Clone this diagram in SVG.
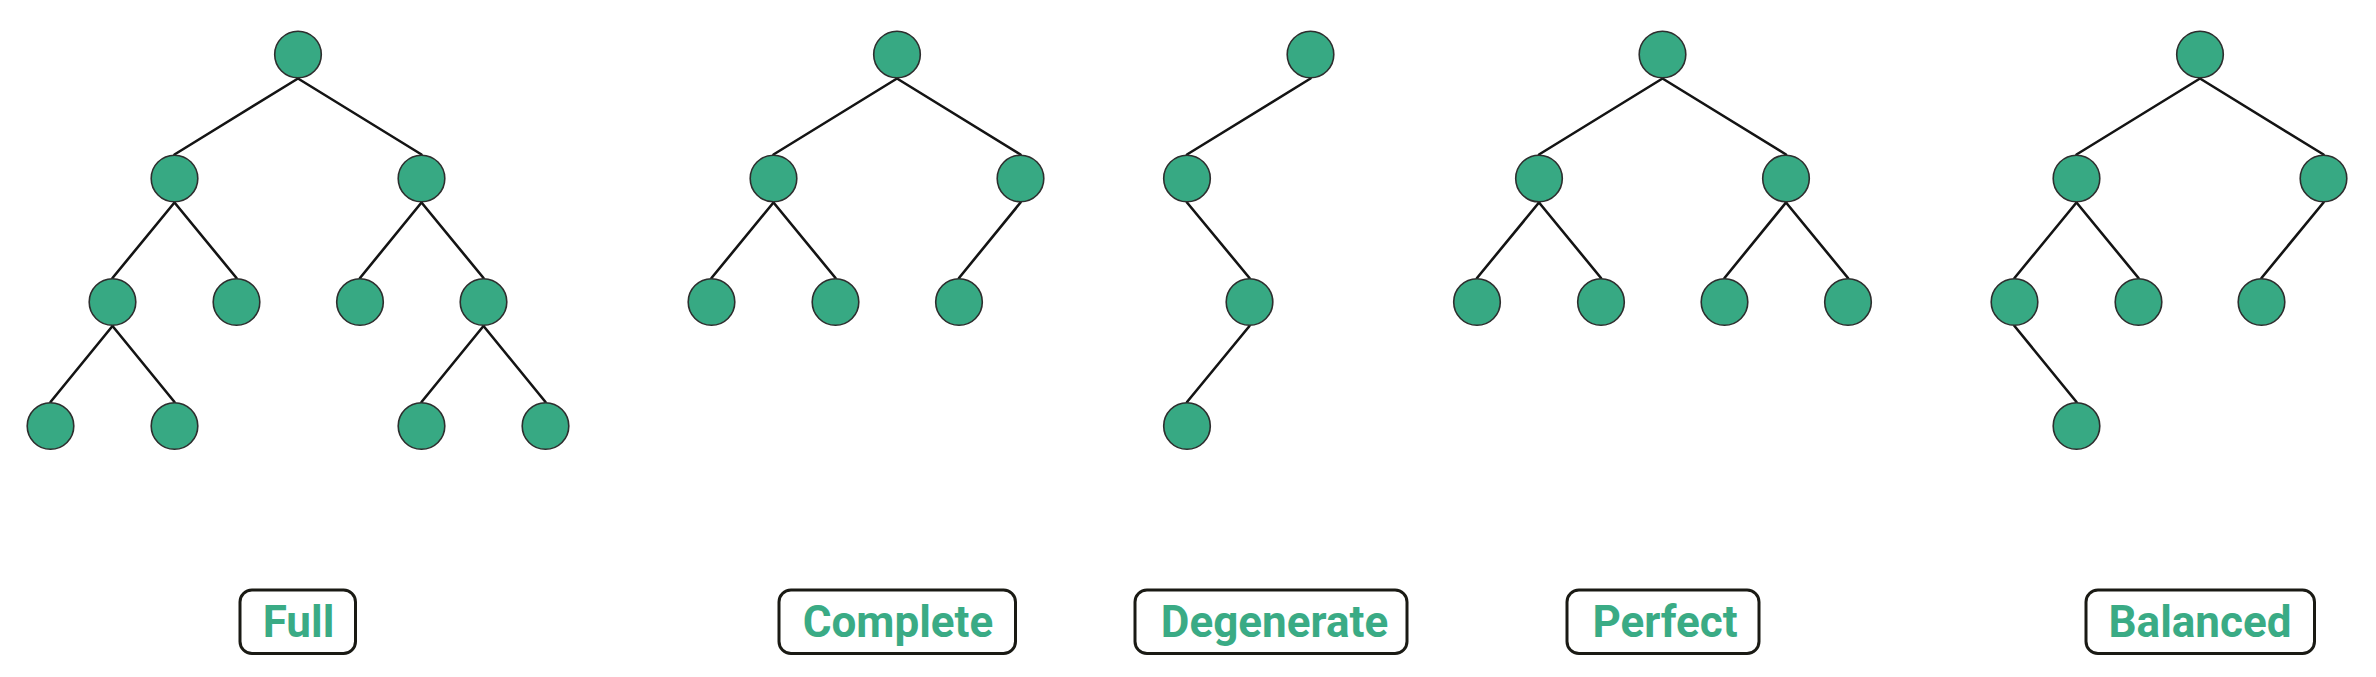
<svg xmlns="http://www.w3.org/2000/svg" width="2376" height="677" viewBox="0 0 2376 677">
<style>
.n{fill:#37a983;stroke:#2e2e2e;stroke-width:1.6}
.e{stroke:#141414;stroke-width:2.6;fill:none;stroke-linecap:round}
.b{fill:#fff;stroke:#1a1a14;stroke-width:3}
.t{fill:#3aab85;font-family:Roboto,"Liberation Sans",sans-serif;font-weight:bold;font-size:44px;text-anchor:middle}
</style>
<rect width="2376" height="677" fill="#fff"/>
<g id="connectors">
<!-- Full -->
<line class="e" x1="298" y1="78.5" x2="174.5" y2="154.5"/>
<line class="e" x1="298" y1="78.5" x2="421.5" y2="154.5"/>
<line class="e" x1="174.5" y1="202.5" x2="112.5" y2="278"/>
<line class="e" x1="174.5" y1="202.5" x2="236.5" y2="278"/>
<line class="e" x1="421.5" y1="202.5" x2="360" y2="278"/>
<line class="e" x1="421.5" y1="202.5" x2="483.5" y2="278"/>
<line class="e" x1="112.5" y1="326" x2="50.5" y2="402"/>
<line class="e" x1="112.5" y1="326" x2="174.5" y2="402"/>
<line class="e" x1="483.5" y1="326" x2="421.5" y2="402"/>
<line class="e" x1="483.5" y1="326" x2="545.5" y2="402"/>
<!-- Complete -->
<line class="e" x1="897" y1="78.5" x2="773.5" y2="154.5"/>
<line class="e" x1="897" y1="78.5" x2="1020.5" y2="154.5"/>
<line class="e" x1="773.5" y1="202.5" x2="711.5" y2="278"/>
<line class="e" x1="773.5" y1="202.5" x2="835.5" y2="278"/>
<line class="e" x1="1020.5" y1="202.5" x2="959" y2="278"/>
<!-- Degenerate -->
<line class="e" x1="1310.5" y1="78.5" x2="1187" y2="154.5"/>
<line class="e" x1="1187" y1="202.5" x2="1249.5" y2="278"/>
<line class="e" x1="1249.5" y1="326" x2="1187" y2="402"/>
<!-- Perfect -->
<line class="e" x1="1662.5" y1="78.5" x2="1539" y2="154.5"/>
<line class="e" x1="1662.5" y1="78.5" x2="1786" y2="154.5"/>
<line class="e" x1="1539" y1="202.5" x2="1477" y2="278"/>
<line class="e" x1="1539" y1="202.5" x2="1601" y2="278"/>
<line class="e" x1="1786" y1="202.5" x2="1724.5" y2="278"/>
<line class="e" x1="1786" y1="202.5" x2="1848" y2="278"/>
<!-- Balanced -->
<line class="e" x1="2200" y1="78.5" x2="2076.5" y2="154.5"/>
<line class="e" x1="2200" y1="78.5" x2="2323.5" y2="154.5"/>
<line class="e" x1="2076.5" y1="202.5" x2="2014.5" y2="278"/>
<line class="e" x1="2076.5" y1="202.5" x2="2138.5" y2="278"/>
<line class="e" x1="2323.5" y1="202.5" x2="2261.5" y2="278"/>
<line class="e" x1="2014.5" y1="326" x2="2076.5" y2="402"/>
</g>
<g id="full-tree">
<circle id="f1" class="n" cx="298" cy="54.5" r="23.3"/>
<circle id="f2" class="n" cx="174.5" cy="178.5" r="23.3"/>
<circle id="f3" class="n" cx="421.5" cy="178.5" r="23.3"/>
<circle id="f4" class="n" cx="112.5" cy="302" r="23.3"/>
<circle id="f5" class="n" cx="236.5" cy="302" r="23.3"/>
<circle id="f6" class="n" cx="360" cy="302" r="23.3"/>
<circle id="f7" class="n" cx="483.5" cy="302" r="23.3"/>
<circle id="f8" class="n" cx="50.5" cy="426" r="23.3"/>
<circle id="f9" class="n" cx="174.5" cy="426" r="23.3"/>
<circle id="f10" class="n" cx="421.5" cy="426" r="23.3"/>
<circle id="f11" class="n" cx="545.5" cy="426" r="23.3"/>
</g>
<g id="complete-tree">
<circle id="c1" class="n" cx="897" cy="54.5" r="23.3"/>
<circle id="c2" class="n" cx="773.5" cy="178.5" r="23.3"/>
<circle id="c3" class="n" cx="1020.5" cy="178.5" r="23.3"/>
<circle id="c4" class="n" cx="711.5" cy="302" r="23.3"/>
<circle id="c5" class="n" cx="835.5" cy="302" r="23.3"/>
<circle id="c6" class="n" cx="959" cy="302" r="23.3"/>
</g>
<g id="degenerate-tree">
<circle id="d1" class="n" cx="1310.5" cy="54.5" r="23.3"/>
<circle id="d2" class="n" cx="1187" cy="178.5" r="23.3"/>
<circle id="d3" class="n" cx="1249.5" cy="302" r="23.3"/>
<circle id="d4" class="n" cx="1187" cy="426" r="23.3"/>
</g>
<g id="perfect-tree">
<circle id="p1" class="n" cx="1662.5" cy="54.5" r="23.3"/>
<circle id="p2" class="n" cx="1539" cy="178.5" r="23.3"/>
<circle id="p3" class="n" cx="1786" cy="178.5" r="23.3"/>
<circle id="p4" class="n" cx="1477" cy="302" r="23.3"/>
<circle id="p5" class="n" cx="1601" cy="302" r="23.3"/>
<circle id="p6" class="n" cx="1724.5" cy="302" r="23.3"/>
<circle id="p7" class="n" cx="1848" cy="302" r="23.3"/>
</g>
<g id="balanced-tree">
<circle id="b1" class="n" cx="2200" cy="54.5" r="23.3"/>
<circle id="b2" class="n" cx="2076.5" cy="178.5" r="23.3"/>
<circle id="b3" class="n" cx="2323.5" cy="178.5" r="23.3"/>
<circle id="b4" class="n" cx="2014.5" cy="302" r="23.3"/>
<circle id="b5" class="n" cx="2138.5" cy="302" r="23.3"/>
<circle id="b6" class="n" cx="2261.5" cy="302" r="23.3"/>
<circle id="b7" class="n" cx="2076.5" cy="426" r="23.3"/>
</g>
<g id="label-full">
<rect class="b" x="240" y="590" width="115.5" height="63.5" rx="12"/>
<text class="t" x="298.5" y="636.5">Full</text>
</g>
<g id="label-complete">
<rect class="b" x="779" y="590" width="236.5" height="63.5" rx="12"/>
<text class="t" x="898" y="636.5">Complete</text>
</g>
<g id="label-degenerate">
<rect class="b" x="1135" y="590" width="272" height="63.5" rx="12"/>
<text class="t" x="1274.5" y="636.5">Degenerate</text>
</g>
<g id="label-perfect">
<rect class="b" x="1567" y="590" width="192" height="63.5" rx="12"/>
<text class="t" x="1665" y="636.5">Perfect</text>
</g>
<g id="label-balanced">
<rect class="b" x="2086" y="590" width="228.5" height="63.5" rx="12"/>
<text class="t" x="2200" y="636.5">Balanced</text>
</g>
</svg>
